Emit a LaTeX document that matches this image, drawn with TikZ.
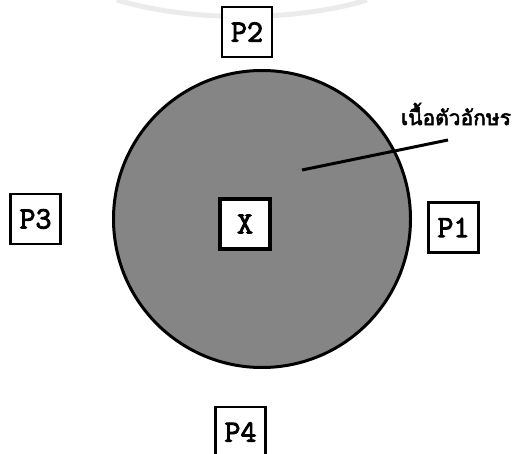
\documentclass[tikz,border=0pt]{standalone}
\usepackage{fontspec}
\newfontfamily\thaifont[Script=Thai,FakeBold=2.5]{Loma}
\newfontfamily\pfont[FakeBold=3]{Latin Modern Mono}
\begin{document}
\begin{tikzpicture}[x=1pt,y=-1pt,
  pbox/.style={draw=black,line width=2.8pt,fill=white,minimum width=50pt,minimum height=50pt,inner sep=0pt,font=\pfont\fontsize{31}{31}\selectfont},
  xbox/.style={pbox,line width=3.8pt},
  region/.style={draw=black,line width=3pt,fill=black!48}]
\useasboundingbox (0,0) rectangle (516,454);
\clip (0,0) rectangle (516,454);
% faint arc (scan trace) at top
\draw[black!8,line width=5pt] (117,0) .. controls (190,22) and (295,22) .. (367,0);
\node[region,circle,minimum size=297pt,inner sep=0pt] (body) at (262,219) {};
\node[xbox] (x) at (245,224) {X};
\node[pbox] (p1) at (453.5,227.5) {P1};
\node[pbox] (p2) at (247,32) {P2};
\node[pbox] (p3) at (35.5,219) {P3};
\node[pbox] (p4) at (240.5,432) {P4};
\node[font=\thaifont\fontsize{21}{21}\selectfont,anchor=center,inner sep=0pt] (lbl) at (456,114) {เนื้อตัวอักษร};
\coordinate (lineend) at (448,140);
\coordinate (linestart) at (302,170);
\draw[line width=3pt] (linestart) -- (lineend);
\end{tikzpicture}
\end{document}
